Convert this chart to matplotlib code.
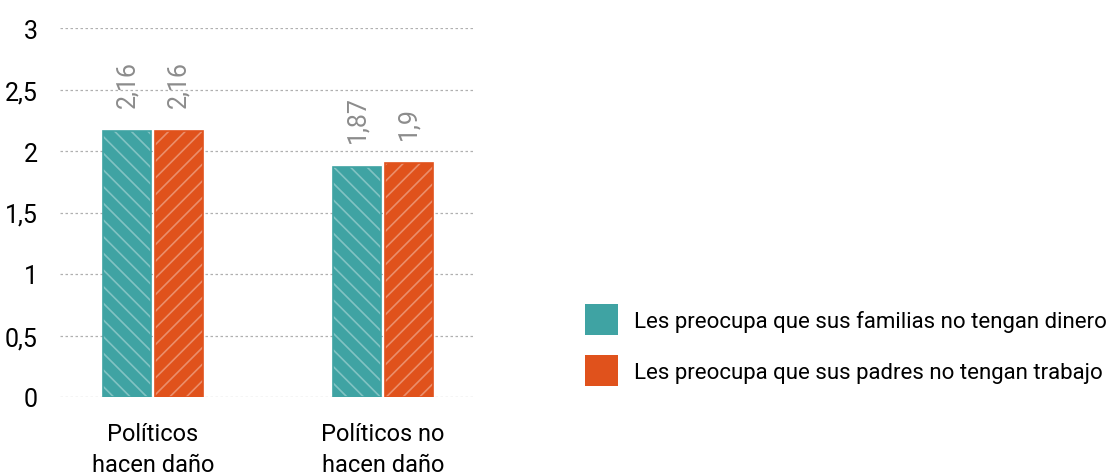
import matplotlib
matplotlib.use("Agg")
import matplotlib.pyplot as plt
import numpy as np

plt.rcParams['font.family'] = ['Roboto', 'DejaVu Sans']
plt.rcParams['hatch.linewidth'] = 1.2

categories = ['Políticos\nhacen daño', 'Políticos no\nhacen daño']
series = ['Les preocupa que sus familias no tengan dinero',
          'Les preocupa que sus padres no tengan trabajo']
familias = [2.16, 1.87]
padres = [2.16, 1.9]
yticks = [0, 0.5, 1, 1.5, 2, 2.5, 3]
ytick_labels = ['0', '0,5', '1', '1,5', '2', '2,5', '3']

colors = ['#3fa3a3', '#e0521c']
hatches = ['\\\\', '//']

fig = plt.figure(figsize=(11.15, 4.77), dpi=100)
ax = fig.add_axes([60 / 1115, 1 - 398 / 477, 415 / 1115, 369 / 477])

x = np.arange(len(categories))
w = 0.209
offs = [-w / 2 - 0.007, w / 2 + 0.007]
for vals, off, c, h, name in zip([familias, padres], offs, colors, hatches, series):
    ax.bar(x + off, vals, w, color=c, edgecolor='none', zorder=2, label=name)
    ax.bar(x + off, vals, w, facecolor='none', edgecolor='white', hatch=h, linewidth=0, zorder=3, alpha=0.35)
    ax.bar(x + off, vals, w, facecolor='none', edgecolor=c, linewidth=1.2, zorder=4)
    for xi, v in zip(x + off, vals):
        ax.text(xi, v + 0.2, str(v).replace('.', ','), rotation=90, ha='center', va='bottom',
                color='#8c8c8c', fontsize=18)

ax.set_xlim(-0.404, 1.4)
ax.set_ylim(0, 3)
ax.set_yticks(yticks)
ax.set_yticklabels(ytick_labels, fontsize=18)
ax.set_xticks(x)
ax.set_xticklabels(categories, fontsize=17, linespacing=1.45)
ax.tick_params(axis='both', length=0)
ax.tick_params(axis='y', pad=16)
ax.tick_params(axis='x', pad=18)
ax.grid(axis='y', color='#b0b0b0', linestyle=(0, (2, 2)), linewidth=0.9, zorder=0)
for s in ax.spines.values():
    s.set_visible(False)

handles, labels = ax.get_legend_handles_labels()
fig.legend(handles, labels, loc='center left', bbox_to_anchor=(574 / 1115, 1 - 346 / 477),
           frameon=False, fontsize=16, handlelength=1.5, handleheight=1.75,
           handletextpad=0.7, labelspacing=0.9, borderpad=0)

fig.savefig('out.png', dpi=100)
